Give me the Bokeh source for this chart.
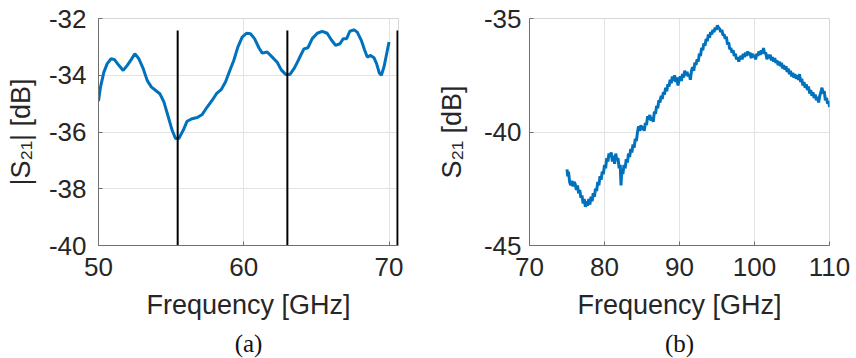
from bokeh.plotting import figure
from bokeh.layouts import row
from bokeh.models import Range1d, FixedTicker, Title, CustomJSTickFormatter
from bokeh.embed import file_html
from bokeh.resources import INLINE

# ---------------- data: panel (a) ----------------
freq_a = [50.0, 50.14, 50.37, 50.6, 50.87, 51.1, 51.4, 51.7, 51.98, 52.25, 52.5, 52.78,
          53.08, 53.35, 53.63, 53.92, 54.22, 54.5, 54.77, 55.07, 55.3, 55.53, 55.83, 56.1,
          56.45, 56.8, 57.14, 57.48, 57.83, 58.12, 58.44, 58.74, 59.04, 59.31, 59.59, 59.89,
          60.19, 60.46, 60.74, 61.04, 61.27, 61.61, 61.96, 62.3, 62.58, 62.88, 63.18, 63.5,
          63.8, 64.14, 64.42, 64.71, 65.06, 65.4, 65.74, 66.02, 66.32, 66.62, 66.85, 67.08,
          67.3, 67.58, 67.81, 68.09, 68.31, 68.5, 68.73, 68.96, 69.14, 69.33, 69.47, 69.65,
          69.88, 70.0]
s21_a = [-34.91, -34.41, -33.89, -33.59, -33.42, -33.45, -33.65, -33.83, -33.65, -33.45,
         -33.24, -33.42, -33.77, -34.18, -34.41, -34.53, -34.65, -34.94, -35.41, -35.94,
         -36.23, -36.23, -35.94, -35.62, -35.53, -35.49, -35.38, -35.12, -34.88, -34.65,
         -34.51, -34.24, -33.83, -33.48, -33.01, -32.66, -32.52, -32.54, -32.71, -33.03,
         -33.22, -33.18, -33.36, -33.54, -33.81, -33.97, -33.97, -33.73, -33.42, -33.07,
         -33.03, -32.71, -32.52, -32.45, -32.52, -32.75, -32.95, -32.89, -32.71, -32.71,
         -32.45, -32.40, -32.48, -32.77, -33.10, -33.36, -33.30, -33.38, -33.59, -33.92,
         -34.00, -33.71, -33.13, -32.83]
marker_freqs = [55.45, 63.0, 70.58]
marker_top = -32.42

xticks_a = [50, 60, 70]
yticks_a = [-40, -38, -36, -34, -32]
ylabel_a = "|S\u2082\u2081| [dB]"
caption_a = "(a)"

# ---------------- data: panel (b) ----------------
freq_b = [75.00, 75.10, 75.20, 75.35, 75.50, 75.65, 75.80, 75.95, 76.10, 76.25, 76.40, 76.55,
          76.70, 76.85, 77.00, 77.15, 77.30, 77.45, 77.60, 77.75, 77.90, 78.05, 78.20, 78.35,
          78.50, 78.65, 78.80, 78.95, 79.10, 79.25, 79.40, 79.55, 79.70, 79.85, 80.00, 80.15,
          80.30, 80.45, 80.60, 80.75, 80.90, 81.05, 81.20, 81.35, 81.50, 81.65, 81.80, 81.95,
          82.10, 82.20, 82.30, 82.45, 82.60, 82.75, 82.90, 83.05, 83.20, 83.35, 83.50, 83.65,
          83.80, 83.95, 84.10, 84.25, 84.40, 84.55, 84.70, 84.85, 85.00, 85.15, 85.30, 85.45,
          85.60, 85.75, 85.90, 86.05, 86.20, 86.35, 86.50, 86.65, 86.80, 86.95, 87.10, 87.25,
          87.40, 87.55, 87.70, 87.85, 88.00, 88.15, 88.30, 88.45, 88.60, 88.75, 88.90, 89.05,
          89.20, 89.35, 89.50, 89.65, 89.80, 89.95, 90.10, 90.25, 90.40, 90.55, 90.70, 90.85,
          91.00, 91.15, 91.30, 91.45, 91.60, 91.75, 91.90, 92.05, 92.20, 92.35, 92.50, 92.65,
          92.80, 92.95, 93.10, 93.25, 93.40, 93.55, 93.70, 93.85, 94.00, 94.15, 94.30, 94.45,
          94.60, 94.75, 94.90, 95.05, 95.20, 95.35, 95.50, 95.65, 95.80, 95.95, 96.10, 96.25,
          96.40, 96.55, 96.70, 96.85, 97.00, 97.15, 97.30, 97.45, 97.60, 97.75, 97.90, 98.05,
          98.20, 98.35, 98.50, 98.65, 98.80, 98.95, 99.10, 99.25, 99.40, 99.55, 99.70, 99.85,
          100.00, 100.15, 100.30, 100.45, 100.60, 100.75, 100.90, 101.05, 101.20, 101.35,
          101.50, 101.65, 101.80, 101.95, 102.10, 102.25, 102.40, 102.55, 102.70, 102.85,
          103.00, 103.15, 103.30, 103.45, 103.60, 103.75, 103.90, 104.05, 104.20, 104.35,
          104.50, 104.65, 104.80, 104.95, 105.10, 105.25, 105.40, 105.55, 105.70, 105.85,
          106.00, 106.15, 106.30, 106.45, 106.60, 106.75, 106.90, 107.05, 107.20, 107.35,
          107.50, 107.65, 107.80, 107.95, 108.10, 108.25, 108.40, 108.55, 108.70, 108.85,
          109.00, 109.15, 109.30, 109.45, 109.60, 109.75, 109.90, 110.00]
s21_b = [-41.65, -41.95, -41.75, -42.20, -42.35, -42.15, -42.40, -42.20, -42.30, -42.55, -42.35, -42.70,
         -42.55, -42.90, -42.80, -43.15, -42.95, -43.30, -43.05, -43.25, -42.95, -43.20, -42.85, -43.05,
         -42.70, -42.85, -42.50, -42.60, -42.20, -42.35, -41.95, -42.10, -41.75, -41.85, -41.45, -41.60,
         -41.15, -41.30, -40.95, -41.10, -40.90, -41.30, -41.05, -41.40, -40.95, -41.25, -41.15, -41.60,
         -41.45, -42.35, -41.70, -41.85, -41.45, -41.60, -41.20, -41.35, -40.95, -41.10, -40.75, -40.90,
         -40.55, -40.70, -40.30, -40.40, -40.00, -39.75, -39.95, -39.70, -39.90, -39.75, -39.95, -39.60,
         -39.70, -39.30, -39.45, -39.25, -39.50, -39.35, -39.55, -39.10, -39.20, -38.85, -38.95, -38.60,
         -38.70, -38.40, -38.55, -38.25, -38.35, -38.05, -38.20, -37.90, -38.00, -37.70, -37.85, -37.55,
         -37.75, -37.50, -37.80, -37.60, -37.95, -37.70, -37.55, -37.75, -37.45, -37.60, -37.30, -37.50,
         -37.35, -37.55, -37.45, -37.70, -37.30, -37.15, -37.30, -36.95, -37.05, -36.80, -36.90, -36.55,
         -36.65, -36.30, -36.40, -36.10, -36.20, -35.90, -36.00, -35.70, -35.85, -35.60, -35.70, -35.50,
         -35.60, -35.40, -35.50, -35.30, -35.40, -35.45, -35.60, -35.50, -35.75, -35.70, -35.90, -35.80,
         -36.15, -36.05, -36.35, -36.30, -36.50, -36.40, -36.65, -36.55, -36.80, -36.70, -36.90, -36.75,
         -36.65, -36.80, -36.55, -36.70, -36.50, -36.65, -36.45, -36.60, -36.50, -36.75, -36.55, -36.70,
         -36.60, -36.80, -36.55, -36.65, -36.45, -36.60, -36.40, -36.55, -36.30, -36.55,
         -36.50, -36.80, -36.60, -36.75, -36.60, -36.85, -36.70, -36.90, -36.75, -36.95,
         -36.85, -37.05, -36.90, -37.10, -36.95, -37.20, -37.05, -37.25, -37.10, -37.35,
         -37.20, -37.45, -37.30, -37.55, -37.40, -37.60, -37.45, -37.65, -37.50, -37.70,
         -37.45, -37.80, -37.65, -37.95, -37.80, -38.05, -37.90, -38.15, -38.00, -38.30,
         -38.15, -38.40, -38.25, -38.50, -38.35, -38.60, -38.45, -38.70, -38.40, -38.25,
         -38.05, -38.30, -38.20, -38.60, -38.50, -38.75, -38.65, -38.90]

xticks_b = [70, 80, 90, 100, 110]
yticks_b = [-45, -40, -35]
ylabel_b = "S\u2082\u2081 [dB]"
caption_b = "(b)"

xlabel = "Frequency [GHz]"

# ---------------- styling ----------------
BLUE = "#0072BD"
TXT = "#262626"
SANS = "Liberation Sans"
SERIF = "Liberation Serif"
FH = 227
FMT = CustomJSTickFormatter(code="return String(tick);")


def make_fig(xr, yr, left, right, xticks, yticks, ylabel, caption, ystandoff, ylab_standoff):
    p = figure(output_backend="svg", toolbar_location=None,
               x_range=Range1d(*xr), y_range=Range1d(*yr),
               frame_width=300, frame_height=FH,
               min_border_left=left, min_border_right=right,
               min_border_top=18, min_border_bottom=113,
               background_fill_color="white", border_fill_color="white")
    p.xaxis.ticker = FixedTicker(ticks=xticks)
    p.yaxis.ticker = FixedTicker(ticks=yticks)
    p.xgrid.ticker = FixedTicker(ticks=xticks)
    p.ygrid.ticker = FixedTicker(ticks=yticks)
    for ax in (p.xaxis, p.yaxis):
        ax.formatter = FMT
        ax.major_label_text_font = SANS
        ax.major_label_text_font_size = "26px"
        ax.major_label_text_color = TXT
        ax.axis_line_color = "#707070"
        ax.axis_line_width = 1
        ax.major_tick_line_color = "#707070"
        ax.major_tick_in = 4
        ax.major_tick_out = 0
        ax.minor_tick_line_color = None
        ax.axis_label_text_font = SANS
        ax.axis_label_text_font_size = "27px"
        ax.axis_label_text_font_style = "normal"
        ax.axis_label_text_color = TXT
    p.xaxis.major_label_standoff = 12
    p.yaxis.major_label_standoff = ystandoff
    p.xaxis.axis_label = xlabel
    p.xaxis.axis_label_standoff = 11
    p.yaxis.axis_label = ylabel
    p.yaxis.axis_label_standoff = ylab_standoff
    p.grid.grid_line_color = "#e3e3e3"
    p.grid.grid_line_width = 1
    p.outline_line_color = "#d6d6d6"
    p.outline_line_width = 1
    p.add_layout(Title(text=caption, align="center", text_font=SERIF,
                       text_font_size="25px", text_font_style="normal",
                       text_color="#111111", standoff=11), "below")
    return p


# ---------------- panel (a) ----------------
pa = make_fig((50, 70.65), (-40, -32), 98, 32, xticks_a, yticks_a, ylabel_a, caption_a, 12, 10)
pa.line(freq_a, s21_a, line_color=BLUE, line_width=3)
pa.segment(x0=marker_freqs, y0=[yticks_a[0]] * len(marker_freqs),
           x1=marker_freqs, y1=[marker_top] * len(marker_freqs),
           line_color="black", line_width=2)

# ---------------- panel (b) ----------------
pb = make_fig((70, 110), (-45, -35), 99, 27, xticks_b, yticks_b, ylabel_b, caption_b, 8, 14)
pb.line(freq_b, s21_b, line_color=BLUE, line_width=3)

layout = row(pa, pb)
open("out.html", "w").write(file_html(layout, INLINE))
